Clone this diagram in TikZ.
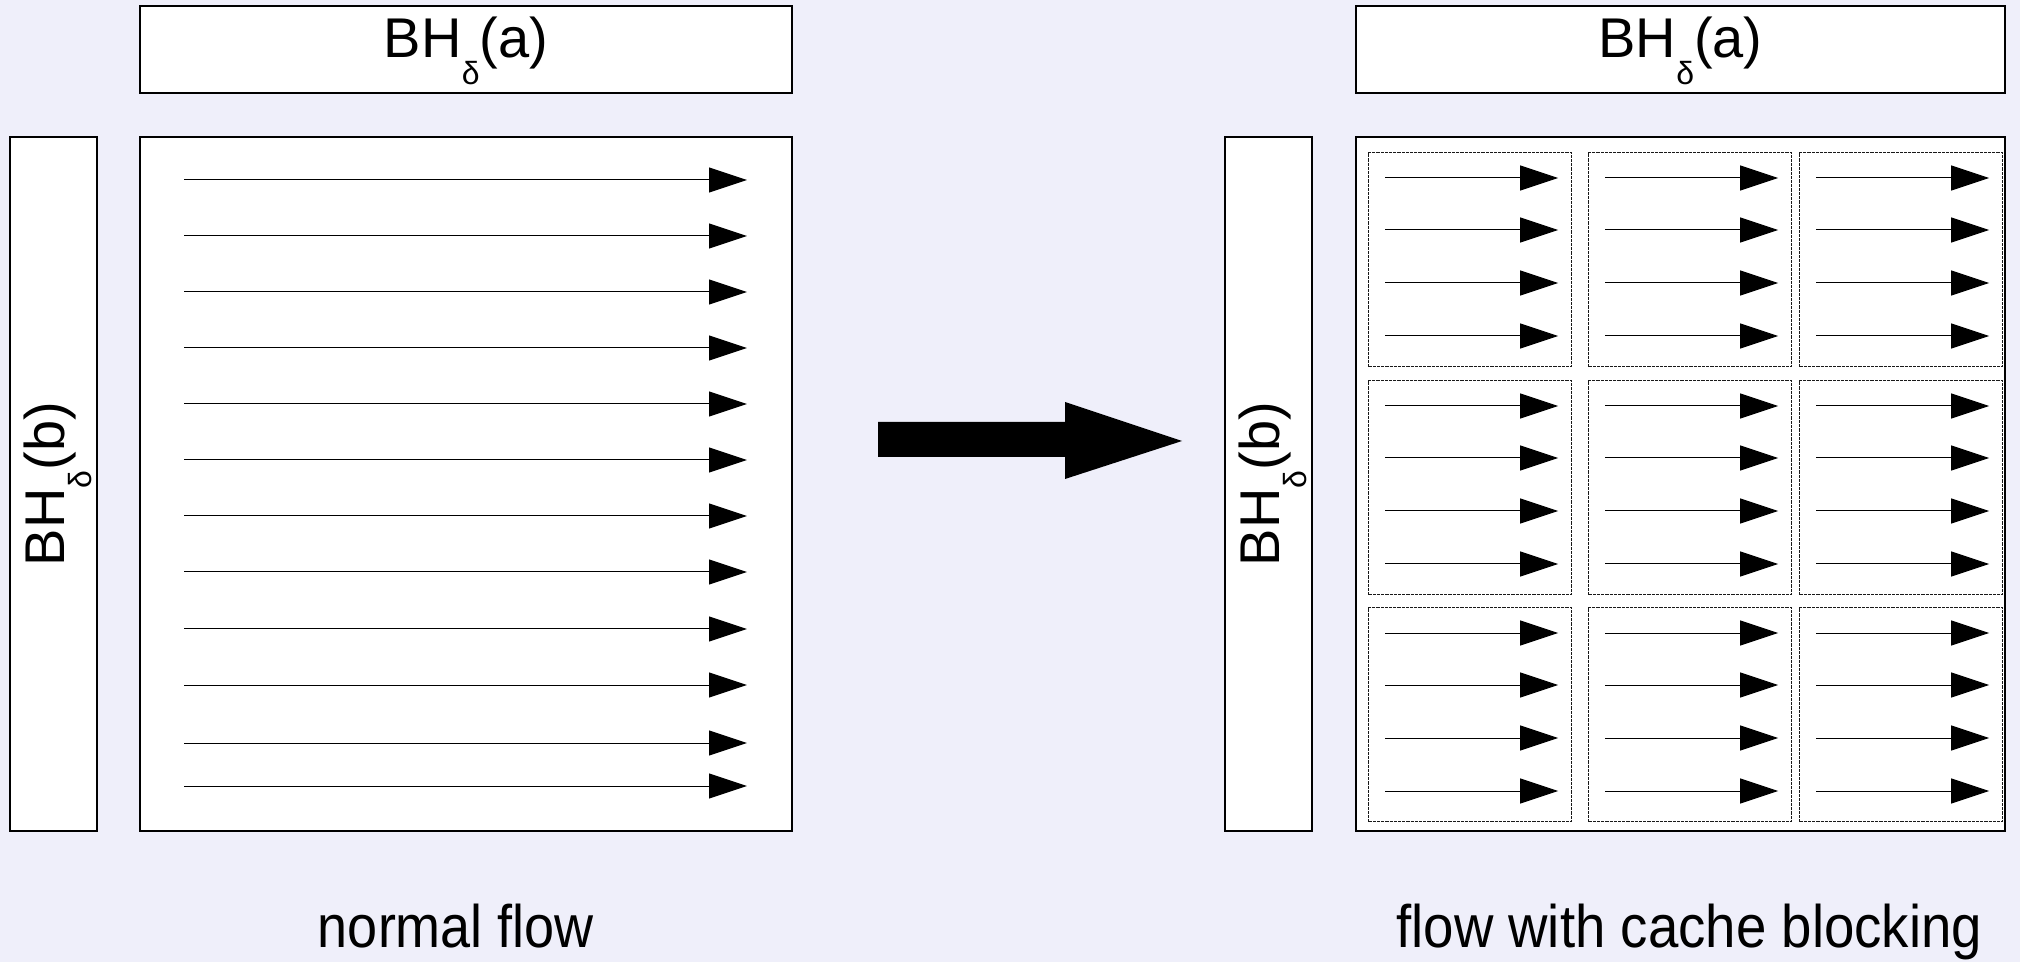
\documentclass[tikz,border=0pt]{standalone}
\usepackage{fontspec}
\setmainfont{Liberation Sans}
\usetikzlibrary{arrows.meta,calc}
\definecolor{bgcol}{RGB}{239,239,250}
\newcommand\lowdelta{\raisebox{-13.5pt}{\fontsize{16}{16}\selectfont δ}}
\begin{document}
\begin{tikzpicture}[x=1pt,y=-1pt,
  box/.style={draw=black,line width=0.6pt,fill=white,inner sep=0pt},
  blockbox/.style={draw=black!90,line width=0.6pt,dash pattern=on 1.6pt off 0.5pt,fill=white,inner sep=0pt,
     minimum width=101.5pt,minimum height=107pt,anchor=north west},
  lbl/.style={inner sep=0pt,font=\fontsize{28}{33}\selectfont},
  captext/.style={inner sep=0pt,font=\fontsize{30}{36}\selectfont,anchor=base},
  flowarrow/.style={line width=0.5pt,-{Triangle[length=19pt,width=12.5pt]}}]
\useasboundingbox (0,0) rectangle (1010,481);
\fill[bgcol] (0,0) rectangle (1010,481);

% left part
\node[box,minimum width=326pt,minimum height=43.5pt] (ta) at (233,24.75) {};
\node[box,minimum width=43.5pt,minimum height=347pt] (lb) at (26.75,242) {};
\node[box,minimum width=326pt,minimum height=347pt] (lm) at (233,242) {};
\node[lbl,anchor=base] (tal) at (233,29) {BH\lowdelta(a)};
\node[lbl,anchor=base,rotate=90] (lbl) at (32,242) {BH\lowdelta(b)};
\foreach \yy in {90,118,146,174,202,230,258,286,314.5,342.5,371.5,393}
  \draw[flowarrow] (92,\yy) -- (373.5,\yy);

% big arrow
\coordinate (bs) at (439,220);
\coordinate (be) at (591,220.5);
\fill[black] (439,211) -- (532.5,211) -- (532.5,201) -- (be) -- (532.5,239.5) -- (532.5,228.5) -- (439,228.5) -- cycle;

% right part
\node[box,minimum width=324.5pt,minimum height=43.5pt] (tb) at (840.25,24.75) {};
\node[box,minimum width=43.5pt,minimum height=347pt] (rb) at (634.25,242) {};
\node[box,minimum width=324.5pt,minimum height=347pt] (rm) at (840.25,242) {};
\node[lbl,anchor=base] (tbl) at (840.25,29) {BH\lowdelta(a)};
\node[lbl,anchor=base,rotate=90] (rbl) at (639.5,242) {BH\lowdelta(b)};

\foreach \cx [count=\i] in {684,794,899.5}
  \foreach \ry [count=\j] in {76,190,303.5} {
    \node[blockbox] (b\i\j) at (\cx,\ry) {};
    \foreach \dy in {13,39,65.5,92}
      \draw[flowarrow] ($(b\i\j.north west)+(8.5,\dy)$) -- ($(b\i\j.north east)+(-7,\dy)$);
  }

% captions
\node[captext] (c1) at (228,473.5) {\scalebox{0.9}[1]{normal flow}};
\node[captext] (c2) at (844.6,473.5) {\scalebox{0.91}[1]{flow with cache blocking}};
\end{tikzpicture}
\end{document}
